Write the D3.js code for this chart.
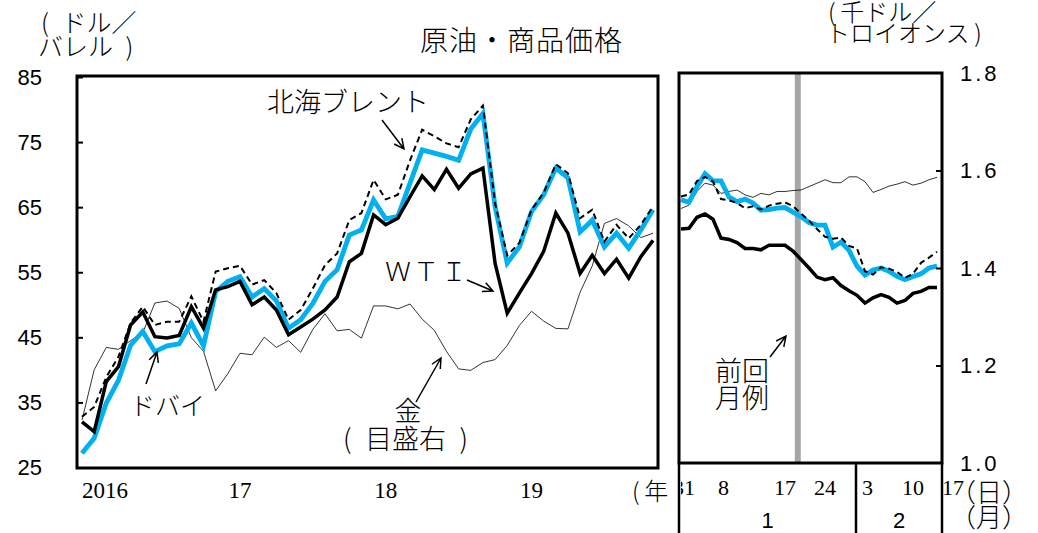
<!DOCTYPE html>
<html><head><meta charset="utf-8">
<script src="https://cdn.jsdelivr.net/npm/d3@7"></script>
<style>body{margin:0;background:#fff}</style>
</head><body><svg id="c" width="1038" height="533"></svg>
<script>
// ---------- DATA ----------
// Monthly, Jan 2016 .. Dec 2019 (US$/barrel; gold in thousand US$/troy oz)
const yearLabels = ["2016", "17", "18", "19"];
const months = d3.range(48).map(i => `${2016 + Math.floor(i / 12)}-${String(i % 12 + 1).padStart(2, "0")}`);
const brentM = [32.8, 34.3, 38.9, 42.0, 47.2, 49.7, 46.9, 47.4, 47.4, 51.3, 47.4, 55.1,
                55.6, 56.0, 53.1, 53.8, 51.8, 47.7, 49.2, 52.5, 56.1, 57.9, 63.0, 64.1,
                69.2, 66.2, 66.9, 72.2, 76.9, 75.9, 74.8, 74.2, 78.5, 80.6, 65.6, 57.6,
                59.5, 64.6, 67.2, 71.6, 70.2, 63.3, 64.6, 59.7, 62.3, 60.2, 62.3, 65.1];
const dubaiM = [27.2, 29.5, 34.9, 38.4, 43.8, 45.9, 42.8, 43.7, 44.0, 47.2, 43.7, 52.0,
                53.6, 54.3, 51.2, 52.5, 50.6, 46.4, 47.7, 50.2, 53.6, 55.4, 60.7, 61.5,
                66.1, 63.2, 63.6, 68.7, 73.8, 73.3, 72.8, 72.2, 77.0, 79.4, 65.1, 56.4,
                58.9, 64.3, 66.9, 71.0, 69.5, 61.2, 63.0, 58.9, 61.0, 58.7, 61.5, 64.6];
const wtiM   = [32.0, 30.5, 38.2, 40.5, 46.9, 48.9, 45.1, 44.9, 45.3, 49.7, 46.4, 52.3,
                52.8, 53.6, 50.0, 51.2, 49.2, 45.4, 46.6, 47.8, 49.2, 51.2, 56.6, 57.9,
                63.8, 62.3, 63.3, 66.6, 69.8, 67.7, 70.8, 67.9, 70.1, 71.0, 56.4, 48.7,
                51.8, 54.8, 58.2, 64.1, 61.0, 54.8, 57.6, 54.8, 57.0, 54.1, 57.4, 59.9];
const goldM  = [1.097, 1.200, 1.246, 1.242, 1.260, 1.276, 1.337, 1.341, 1.326, 1.266, 1.238, 1.157,
                1.192, 1.234, 1.231, 1.267, 1.246, 1.260, 1.236, 1.283, 1.315, 1.280, 1.283, 1.265,
                1.331, 1.331, 1.325, 1.335, 1.304, 1.281, 1.238, 1.202, 1.199, 1.215, 1.221, 1.250,
                1.291, 1.320, 1.300, 1.285, 1.284, 1.359, 1.413, 1.500, 1.510, 1.495, 1.471, 1.480];

// Daily, Dec 31 2019 .. Feb 14 2020 (business days)
const days = ["12/31","1/2","1/3","1/6","1/7","1/8","1/9","1/10","1/13","1/14","1/15","1/16","1/17",
              "1/20","1/21","1/22","1/23","1/24","1/27","1/28","1/29","1/30","1/31",
              "2/3","2/4","2/5","2/6","2/7","2/10","2/11","2/12","2/13","2/14"];
const dayTickIdx = [0, 5, 12, 17, 23, 28, 33];
const dayTickLabels = ["31", "8", "17", "24", "3", "10", "17"];
const monthGroupLabels = ["1", "2"];
const brentD = [66.0, 66.3, 68.4, 69.0, 68.3, 65.6, 65.4, 65.0, 64.2, 64.5, 64.0, 64.6, 64.9,
                65.1, 64.5, 63.4, 62.3, 61.0, 59.8, 59.5, 59.7, 58.4, 58.0,
                54.5, 54.0, 55.1, 54.9, 54.4, 53.5, 54.1, 55.8, 56.6, 57.5];
const dubaiD = [65.5, 65.1, 67.5, 69.5, 68.4, 68.4, 65.9, 65.2, 65.6, 65.0, 63.9, 64.0, 64.2,
                64.3, 63.6, 62.9, 62.0, 61.6, 61.6, 58.2, 59.0, 57.7, 55.3,
                53.9, 54.7, 55.0, 54.5, 53.7, 53.2, 53.7, 54.1, 55.0, 55.3];
const wtiD   = [61.0, 61.1, 62.8, 63.3, 62.5, 59.6, 59.4, 58.9, 58.0, 58.0, 57.8, 58.5, 58.5,
                58.5, 57.6, 56.3, 55.0, 53.6, 53.2, 53.5, 52.3, 51.5, 50.8,
                49.6, 50.4, 50.9, 50.5, 49.6, 50.0, 51.1, 51.4, 52.0, 52.0];
const goldD  = [1.522, 1.529, 1.557, 1.574, 1.570, 1.553, 1.557, 1.560, 1.550, 1.545, 1.553, 1.550, 1.557,
                1.557, 1.559, 1.560, 1.567, 1.574, 1.581, 1.575, 1.575, 1.587, 1.587,
                1.577, 1.555, 1.561, 1.568, 1.572, 1.577, 1.570, 1.574, 1.581, 1.586];
const reportIdx = 14.6; // previous monthly report (Jan 22)

const oilTicks = [25, 35, 45, 55, 65, 75, 85];
const goldTicks = [1.0, 1.2, 1.4, 1.6, 1.8];

// ---------- SETUP ----------
const JP = '"Noto Sans CJK JP", "Noto Sans", sans-serif';
const SANS = '"Liberation Sans", Arial, sans-serif';
const SERIF = '"Liberation Serif", "Times New Roman", serif';
const BLUE = "#00b0f0";
const EN = "\u2002", TH = "\u2009";
const svg = d3.select("#c");

// left panel scales
const xM = d3.scaleLinear().domain([0, 47]).range([82, 653]);
const yOilL = d3.scaleLinear().domain([25, 85]).range([467.5, 77]);
const yGoldL = d3.scaleLinear().domain([1.0, 1.8]).range([467.5, 77]);
// right panel scales
const xD = d3.scaleLinear().domain([0, 32]).range([681, 937]);
const yOilR = d3.scaleLinear().domain([25, 85]).range([463, 73]);
const yGoldR = d3.scaleLinear().domain([1.0, 1.8]).range([463, 73]);

function drawLine(g, data, x, y, stroke, width, dash) {
  g.append("path").datum(data)
    .attr("fill", "none").attr("stroke", stroke).attr("stroke-width", width)
    .attr("stroke-linejoin", "miter").attr("stroke-miterlimit", 3)
    .attr("stroke-dasharray", dash || null)
    .attr("d", d3.line().x((d, i) => x(i)).y(d => y(d)));
}

// ---------- LEFT PANEL ----------
const gL = svg.append("g");
drawLine(gL, goldM, xM, yGoldL, "#000", 0.8);
drawLine(gL, dubaiM, xM, yOilL, BLUE, 4.8);
drawLine(gL, brentM, xM, yOilL, "#000", 2, "6,4");
drawLine(gL, wtiM, xM, yOilL, "#000", 3.5);

gL.append("rect").attr("x", 77).attr("y", 76).attr("width", 581).attr("height", 392)
  .attr("fill", "none").attr("stroke", "#000").attr("stroke-width", 3);

const axL = svg.append("g").attr("transform", "translate(77,0)")
  .call(d3.axisLeft(yOilL).tickValues(oilTicks).tickSizeInner(-6).tickSizeOuter(0).tickPadding(35));
axL.select(".domain").remove();
axL.selectAll("line").attr("stroke", "#000").attr("stroke-width", 2);
axL.selectAll("text").attr("font-family", SANS).attr("font-size", 22).attr("fill", "#000");

// year labels
svg.append("g").selectAll("text").data(yearLabels).join("text")
  .attr("x", (d, i) => i === 0 ? xM(0) : xM(1 + 12 * i))
  .attr("y", 490).attr("dy", "0.35em")
  .attr("text-anchor", (d, i) => i === 0 ? "start" : "middle")
  .attr("font-family", SERIF).attr("font-size", 23).text(d => d);

// ---------- RIGHT PANEL ----------
const gR = svg.append("g");
gR.append("rect").attr("x", xD(reportIdx) - 3).attr("y", 73).attr("width", 6).attr("height", 390)
  .attr("fill", "#a6a6a6");
drawLine(gR, goldD, xD, yGoldR, "#000", 0.8);
drawLine(gR, dubaiD, xD, yOilR, BLUE, 4.8);
drawLine(gR, brentD, xD, yOilR, "#000", 2, "6,4");
drawLine(gR, wtiD, xD, yOilR, "#000", 3.5);
gR.append("rect").attr("x", 679).attr("y", 73).attr("width", 263).attr("height", 390)
  .attr("fill", "none").attr("stroke", "#000").attr("stroke-width", 3);

const axR = svg.append("g").attr("transform", "translate(942,0)")
  .call(d3.axisRight(yGoldR).tickValues(goldTicks).tickSizeInner(-6).tickSizeOuter(0)
    .tickPadding(18).tickFormat(d3.format(".1f")));
axR.select(".domain").remove();
axR.selectAll("line").attr("stroke", "#000").attr("stroke-width", 2);
axR.selectAll("line").filter(d => d === 1.0 || d === 1.8).remove();
axR.selectAll("text").attr("font-family", SANS).attr("font-size", 22)
  .attr("letter-spacing", 3).attr("fill", "#000");

// table under right panel
const divX = xD(22) - 1;
[[679, 463, 679, 533], [942, 463, 942, 533], [divX, 463, divX, 533]].forEach(l =>
  svg.append("line").attr("x1", l[0]).attr("y1", l[1]).attr("x2", l[2]).attr("y2", l[3])
    .attr("stroke", "#000").attr("stroke-width", 2.5));
svg.append("clipPath").attr("id", "tclip").append("rect")
  .attr("x", 681).attr("y", 464).attr("width", 357).attr("height", 69);
svg.append("g").attr("clip-path", "url(#tclip)").selectAll("text").data(dayTickIdx).join("text")
  .attr("x", (d, i) => xD(d) - (i === 0 ? 8 : 3)).attr("y", 487).attr("dy", "0.35em")
  .attr("font-family", SERIF).attr("font-size", 22).text((d, i) => dayTickLabels[i]);
svg.append("g").selectAll("text").data(monthGroupLabels).join("text")
  .attr("x", (d, i) => i === 0 ? (679 + divX) / 2 : (divX + 942) / 2)
  .attr("y", 520).attr("dy", "0.35em").attr("text-anchor", "middle")
  .attr("font-family", SANS).attr("font-size", 22).text(d => d);

// ---------- TEXT ----------
function jp(x, y, s, size, anchor) {
  return svg.append("text").attr("x", x).attr("y", y).attr("dy", "0.35em")
    .attr("text-anchor", anchor || "start")
    .attr("font-family", JP).attr("font-weight", 300)
    .attr("font-size", size).attr("fill", "#000").text(s);
}
jp(41, 23, "(" + EN + "ドル／", 25);
jp(38, 47, "バレル" + EN + ")", 25);
jp(420, 41, "原油・商品価格", 28).attr("letter-spacing", 1);
jp(828, 13, "(" + TH + "千ドル／", 24);
jp(826, 34, "トロイオンス" + TH + ")", 24);
jp(267, 103, "北海ブレント", 27);
jp(385, 272, "ＷＴＩ", 26).attr("letter-spacing", 2);
jp(130, 406, "ドバイ", 25);
jp(408, 412, "金", 27, "middle");
jp(343, 440, "(" + EN + "目盛右" + EN + ")", 27);
jp(715, 372, "前回", 27);
jp(715, 399, "月例", 27);
jp(632, 492, "(" + TH + "年", 24);
jp(950, 493, "（日）", 26);
jp(950, 518, "（月）", 26);

// arrows
function arrow(x1, y1, x2, y2) {
  const a = Math.atan2(y2 - y1, x2 - x1), L = 11, s = 0.45;
  const p = `M${x1},${y1}L${x2},${y2}` +
    `M${x2 - L * Math.cos(a - s)},${y2 - L * Math.sin(a - s)}L${x2},${y2}` +
    `L${x2 - L * Math.cos(a + s)},${y2 - L * Math.sin(a + s)}`;
  svg.append("path").attr("d", p).attr("fill", "none").attr("stroke", "#000").attr("stroke-width", 1.5);
}
arrow(382, 120, 404, 149);
arrow(467, 280, 493, 291);
arrow(146, 384, 157, 352);
arrow(416, 402, 441, 358);
arrow(770, 357, 786, 336);
</script></body></html>
